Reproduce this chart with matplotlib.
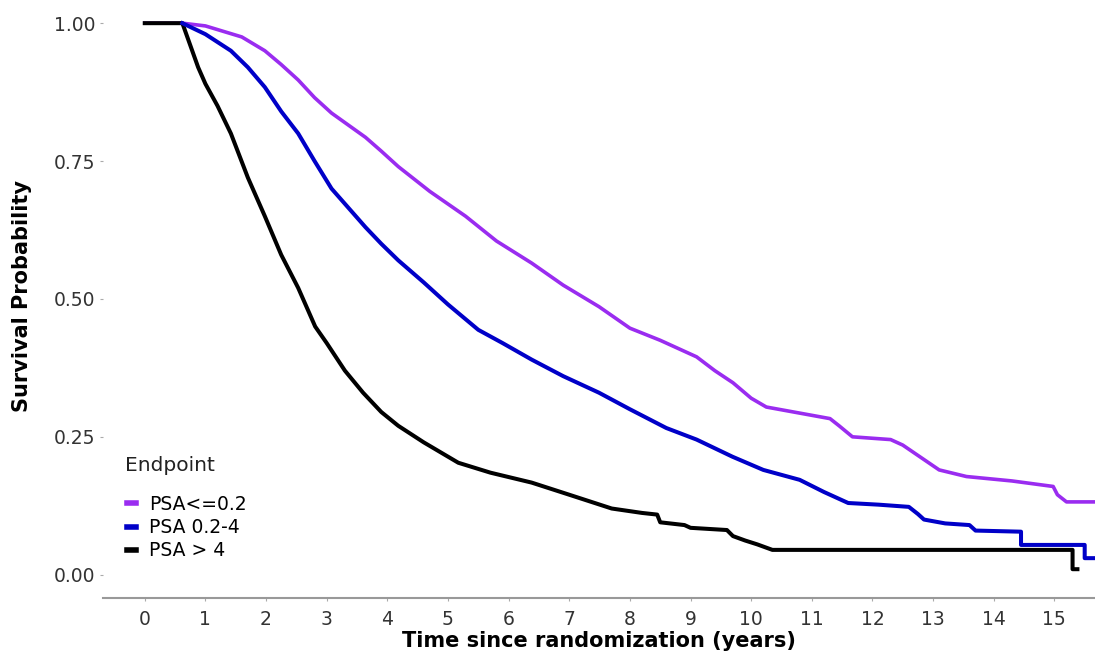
import matplotlib
matplotlib.use("Agg")
import matplotlib.pyplot as plt

# survival by PSA group: (years since randomization, survival probability)
# repeated times mark the visible drops of the step curves
t_low = [0, 0.62, 1.0, 1.3, 1.6, 1.98, 2.25, 2.53, 2.8, 3.08, 3.36, 3.64, 3.9, 4.18, 4.7,
         5.29, 5.8, 6.38, 6.9, 7.49, 8.0, 8.5, 9.1, 9.4, 9.7, 10.0, 10.25, 10.8, 11.3,
         11.45, 11.67, 12.3, 12.5, 12.7, 13.1, 13.55, 14.3, 14.98, 15.05, 15.2, 15.67]
s_low = [1, 1, 0.995, 0.985, 0.975, 0.95, 0.925, 0.897, 0.865, 0.837, 0.815, 0.793, 0.768,
         0.74, 0.695, 0.65, 0.605, 0.565, 0.525, 0.486, 0.447, 0.425, 0.395, 0.37, 0.348,
         0.32, 0.304, 0.293, 0.283, 0.27, 0.25, 0.245, 0.235, 0.22, 0.19, 0.178, 0.17,
         0.16, 0.145, 0.132, 0.132]

t_mid = [0.62, 1.0, 1.42, 1.7, 1.98, 2.25, 2.53, 2.8, 3.08, 3.36, 3.64, 3.9, 4.18, 4.6, 5.0,
         5.5, 5.9, 6.38, 6.9, 7.49, 8.0, 8.6, 9.1, 9.69, 10.2, 10.8, 11.2, 11.6, 12.1, 12.6,
         12.75, 12.85, 13.2, 13.6, 13.7, 14.45, 14.45, 15.5, 15.5, 15.67]
s_mid = [1, 0.98, 0.95, 0.92, 0.884, 0.84, 0.80, 0.75, 0.70, 0.665, 0.63, 0.60, 0.57, 0.53,
         0.49, 0.444, 0.42, 0.39, 0.36, 0.33, 0.30, 0.266, 0.245, 0.214, 0.19, 0.172, 0.15,
         0.13, 0.127, 0.123, 0.11, 0.10, 0.093, 0.09, 0.08, 0.078, 0.054, 0.054, 0.03, 0.03]

t_high = [0, 0.62, 0.75, 0.88, 1.0, 1.2, 1.42, 1.7, 1.98, 2.25, 2.53, 2.81, 3.0, 3.3, 3.6,
          3.9, 4.18, 4.6, 5.17, 5.7, 6.38, 7.0, 7.7, 8.2, 8.45, 8.5, 8.9, 9.0, 9.6, 9.7,
          9.9, 10.1, 10.35, 15.3, 15.3, 15.38]
s_high = [1, 1, 0.96, 0.92, 0.89, 0.85, 0.80, 0.72, 0.65, 0.58, 0.52, 0.45, 0.42, 0.37,
          0.33, 0.295, 0.27, 0.24, 0.203, 0.185, 0.167, 0.145, 0.12, 0.112, 0.109, 0.095,
          0.09, 0.085, 0.081, 0.07, 0.062, 0.055, 0.045, 0.045, 0.01, 0.01]

labels = ["PSA<=0.2", "PSA 0.2-4", "PSA > 4"]
colors = ["#9a2cf0", "#0000c8", "black"]

plt.rcParams['font.family'] = ['DejaVu Sans']

fig = plt.figure(figsize=(10.95, 6.57), dpi=100)
ax = fig.add_axes([0.094, 0.09, 0.906, 0.91])

ax.plot(t_low, s_low, color=colors[0], lw=2.6, label=labels[0])
ax.plot(t_high, s_high, color=colors[2], lw=2.9, label=labels[2])
ax.plot(t_mid, s_mid, color=colors[1], lw=2.9, label=labels[1])

ax.set_xlim(-0.69, 15.67)
ax.set_ylim(-0.042, 1.042)
ax.set_xticks(range(0, 16))
ax.set_yticks([0, 0.25, 0.5, 0.75, 1.0])
ax.set_yticklabels(["0.00", "0.25", "0.50", "0.75", "1.00"])

for side in ['top', 'right', 'left']:
    ax.spines[side].set_visible(False)
ax.spines['bottom'].set_color('#999999')
ax.spines['bottom'].set_linewidth(1.5)
ax.tick_params(axis='both', colors='#aaaaaa', labelcolor='#333333', labelsize=13.5, length=2)
ax.tick_params(axis='x', pad=7)

ax.set_xlabel("Time since randomization (years)", fontsize=15, fontweight='bold')
ax.xaxis.set_label_coords(0.5, -0.055)
ax.set_ylabel("Survival Probability", fontsize=15, fontweight='bold')
ax.yaxis.set_label_coords(-0.071, 0.505)

# legend title sits apart from the keys, so it is placed as its own text
ax.text(0.022, 0.222, "Endpoint", transform=ax.transAxes, fontsize=14.5,
        ha='left', va='center', color='#222222')
handles, labs = ax.get_legend_handles_labels()
order = [labs.index(l) for l in labels]
leg = ax.legend([handles[i] for i in order], labels, loc='upper left',
                bbox_to_anchor=(0.024, 0.172), frameon=False, fontsize=13.5,
                handlelength=0.5, handletextpad=0.7, labelspacing=0.22,
                borderaxespad=0, borderpad=0)
for line in leg.get_lines():
    line.set_linewidth(4)

fig.savefig("out.png", dpi=100)
